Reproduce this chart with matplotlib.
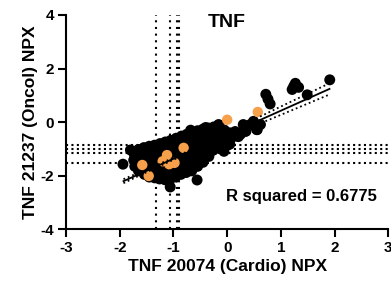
import matplotlib
matplotlib.use("Agg")
import matplotlib.pyplot as plt
import numpy as np

plt.rcParams['font.family'] = ['Liberation Sans', 'DejaVu Sans']
plt.rcParams['font.weight'] = 'bold'

# ---- data ----
black_x = [
    -1.73, -1.74, -1.72,
    -1.65, -1.64, -1.66, -1.63, -1.65,
    -1.55, -1.56, -1.54, -1.55, -1.56, -1.54,
    -1.45, -1.46, -1.44, -1.45, -1.46, -1.44, -1.45,
    -1.35, -1.36, -1.34, -1.35, -1.36, -1.34, -1.35,
    -1.25, -1.26, -1.24, -1.25, -1.26, -1.24, -1.25, -1.26,
    -1.15, -1.16, -1.14, -1.15, -1.16, -1.14, -1.15, -1.16,
    -1.05, -1.06, -1.04, -1.05, -1.06, -1.04, -1.05, -1.06,
    -0.95, -0.96, -0.94, -0.95, -0.96, -0.94, -0.95, -0.96,
    -0.85, -0.86, -0.84, -0.85, -0.86, -0.84, -0.85, -0.86,
    -0.75, -0.76, -0.74, -0.75, -0.76, -0.74, -0.75, -0.76,
    -0.65, -0.66, -0.64, -0.65, -0.66, -0.64, -0.65, -0.66,
    -0.55, -0.56, -0.54, -0.55, -0.56, -0.54, -0.55,
    -0.45, -0.46, -0.44, -0.45, -0.46, -0.44, -0.45,
    -0.35, -0.36, -0.34, -0.35, -0.36, -0.34,
    -0.25, -0.26, -0.24, -0.25, -0.26,
    -0.15, -0.16, -0.14, -0.15, -0.16,
    -0.05, -0.06, -0.04, -0.05,
    0.05, 0.06, 0.05,
    0.15, 0.16,
    0.25, 0.35, 0.45, 0.55,
    -1.94, -1.80, -0.56, -1.06, -0.68, -0.40, -0.16,
    1.91, 1.27, 1.21, 1.49, 1.33, 0.72, 0.80, 0.76, 1.24,
    0.43, 0.56, 0.34, 0.15, 0.21, -0.03, -0.09,
    0.30, 0.62, 0.49, 0.12, 0.02, -0.06,
]
black_y = [
    -1.20, -1.42, -1.65,
    -1.02, -1.22, -1.42, -1.62, -1.82,
    -0.95, -1.15, -1.35, -1.55, -1.75, -1.95,
    -0.90, -1.10, -1.30, -1.50, -1.70, -1.90, -2.05,
    -0.86, -1.05, -1.25, -1.45, -1.65, -1.85, -2.08,
    -0.80, -1.00, -1.20, -1.40, -1.60, -1.80, -2.00, -2.12,
    -0.74, -0.95, -1.15, -1.35, -1.55, -1.75, -1.95, -2.15,
    -0.68, -0.90, -1.10, -1.30, -1.50, -1.70, -1.90, -2.12,
    -0.60, -0.82, -1.02, -1.22, -1.42, -1.62, -1.82, -2.05,
    -0.52, -0.75, -0.95, -1.15, -1.35, -1.55, -1.75, -1.95,
    -0.45, -0.68, -0.88, -1.08, -1.28, -1.48, -1.68, -1.88,
    -0.40, -0.62, -0.82, -1.02, -1.22, -1.42, -1.62, -1.82,
    -0.32, -0.58, -0.78, -0.98, -1.18, -1.40, -1.65,
    -0.26, -0.50, -0.70, -0.90, -1.10, -1.30, -1.50,
    -0.22, -0.45, -0.65, -0.85, -1.05, -1.28,
    -0.18, -0.40, -0.60, -0.80, -1.05,
    -0.12, -0.35, -0.55, -0.75, -0.95,
    -0.30, -0.50, -0.70, -0.88,
    -0.40, -0.62, -0.82,
    -0.35, -0.52,
    -0.45, -0.34, -0.10, -0.28,
    -1.57, -1.04, -2.16, -2.42, -0.30, -0.20, -0.09,
    1.58, 1.45, 1.22, 1.02, 1.30, 1.04, 0.68, 0.86, 1.34,
    -0.09, -0.28, -0.34, -0.46, -0.54, -0.65, -0.95,
    -0.09, -0.09, 0.03, -0.40, -0.84, -1.09,
]

orange_x = [-1.58, -1.46, -1.12, -1.20, -0.98, -1.08, -0.81, 0.00, 0.57]
orange_y = [-1.60, -2.01, -1.23, -1.46, -1.52, -1.57, -0.96, 0.09, 0.38]

# cutoff lines
vlines_x = [-1.32, -1.07, -0.935, -0.905]
hlines_y = [-0.87, -1.00, -1.14, -1.54]

# linear fit and its confidence band
fit_slope = 0.898
fit_intercept = -0.47
band_x = [-1.93, -1.5, -1.0, -0.5, 0.0, 0.5, 1.0, 1.5, 1.905]
band_half = [0.075, 0.05, 0.035, 0.05, 0.085, 0.12, 0.155, 0.185, 0.21]

r2_text = "R squared = 0.6775"
title_text = "TNF"
xlabel = "TNF 20074 (Cardio) NPX"
ylabel = "TNF 21237 (Oncol) NPX"
xticks = [-3, -2, -1, 0, 1, 2, 3]
yticks = [-4, -2, 0, 2, 4]

# ---- figure ----
fig = plt.figure(figsize=(3.91, 2.83), dpi=100)
ax = fig.add_axes([0.1688, 0.1898, 0.8243, 0.7572])

for xv in vlines_x:
    ax.axvline(xv, color='black', lw=1.5, ls=(0, (1, 2.2)), zorder=1)
for yv in hlines_y:
    ax.axhline(yv, color='black', lw=1.5, ls=(0, (1, 1.6)), zorder=1)

ax.scatter(black_x, black_y, s=62, color='black', edgecolors='none', zorder=3)
ax.scatter(orange_x, orange_y, s=56, color='#F7A04B', edgecolors='none', zorder=4)

bx = np.array(band_x)
by = fit_slope * bx + fit_intercept
bh = np.array(band_half)
ax.plot(bx, by, color='black', lw=1.3, zorder=5)
ax.plot(bx, by + bh, color='black', lw=1.3, ls=(0, (1, 1.6)), zorder=5)
ax.plot(bx, by - bh, color='black', lw=1.3, ls=(0, (1, 1.6)), zorder=5)

ax.set_xlim(-3, 3)
ax.set_ylim(-4, 4)
ax.set_xticks(xticks)
ax.set_yticks(yticks)
ax.set_xticklabels([str(t) for t in xticks], fontsize=11, fontweight='bold')
ax.set_yticklabels([str(t) for t in yticks], fontsize=11, fontweight='bold')
for s in ['top', 'right']:
    ax.spines[s].set_visible(False)
for s in ['left', 'bottom']:
    ax.spines[s].set_linewidth(1.5)
ax.tick_params(axis='both', direction='out', length=5.5, width=1.5, pad=3)

ax.set_xlabel(xlabel, fontsize=12.5, fontweight='bold', labelpad=3)
ax.set_ylabel(ylabel, fontsize=12.5, fontweight='bold', labelpad=2)

ax.text(0.0, 3.72, title_text, fontsize=14, fontweight='bold', ha='center', va='center')
ax.text(1.38, -2.77, r2_text, fontsize=12, fontweight='bold', ha='center', va='center')

fig.savefig('out.png', dpi=100)
